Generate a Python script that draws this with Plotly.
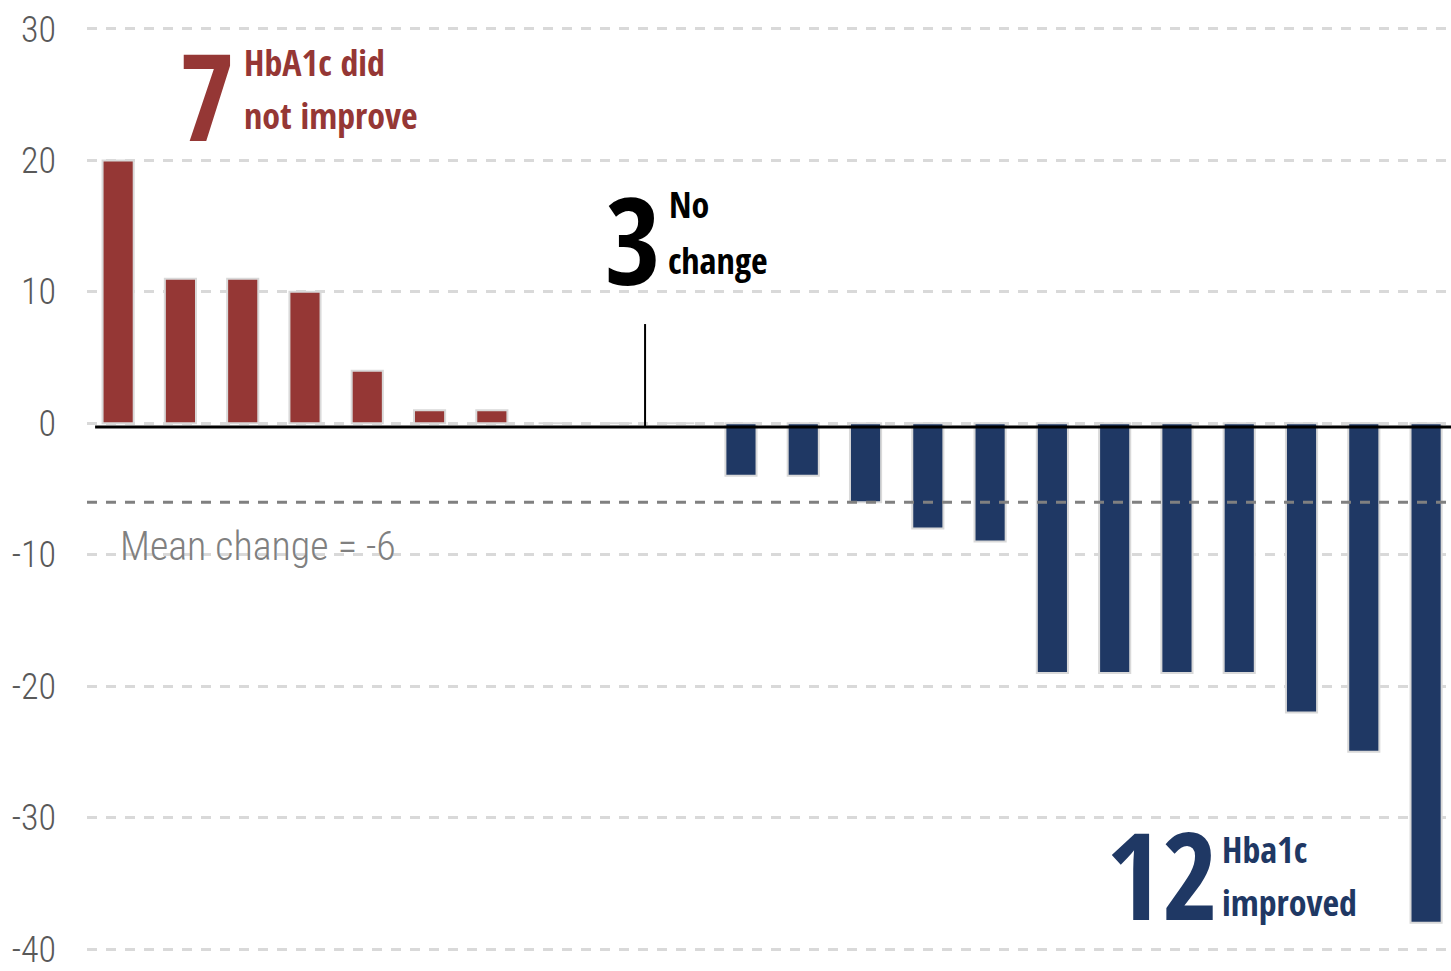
import plotly.graph_objects as go

# Change in HbA1c per participant, ordered from largest rise to largest fall
participants = list(range(1, 23))
hba1c_change = [20, 11, 11, 10, 4, 1, 1, 0, 0, 0,
                -4, -4, -6, -8, -9, -19, -19, -19, -19, -22, -25, -38]
mean_change = -6
y_ticks = [30, 20, 10, 0, -10, -20, -30, -40]
y_tick_text = ["30", "20", "10", "0", "-10", "-20", "-30", "-40"]

RED = "#953735"
NAVY = "#1F3864"
GRID = "#D9D9D9"
FONT = "Open Sans Condensed"
LIGHT_FONT = "Roboto Condensed"

bar_colors = [RED if v > 0 else NAVY for v in hba1c_change]

fig = go.Figure()
fig.add_trace(go.Bar(
    x=participants,
    y=hba1c_change,
    width=0.5,
    marker=dict(color=bar_colors, line=dict(color=GRID, width=2)),
    hoverinfo="x+y",
    showlegend=False,
))

# zero baseline
fig.add_shape(type="line", xref="x", yref="y", x0=0.63, x1=22.4, y0=-0.28, y1=-0.28,
              line=dict(color="black", width=3), layer="above")
# mean change reference
fig.add_shape(type="line", xref="paper", yref="y", x0=0, x1=1, y0=mean_change, y1=mean_change,
              line=dict(color="#808080", width=3, dash="10px,9px"), layer="above")
# pointer to the unchanged group
fig.add_shape(type="line", xref="x", yref="y", x0=9.46, x1=9.46, y0=7.55, y1=-0.28,
              line=dict(color="black", width=2), layer="above")

def label(x, y, text, size, color, weight="bold", anchor="left", family=FONT):
    fig.add_annotation(x=x, y=y, xref="x", yref="y", text=text, showarrow=False,
                       xanchor=anchor, yanchor="middle",
                       font=dict(family=family, size=size, color=color, weight=weight))

# group counts
label(2.43, 25.05, "7", 121, RED, anchor="center")
label(9.27, 14.1, "3", 121, "black", anchor="center")
label(17.76, -34.2, "12", 121, NAVY, anchor="center")

# group descriptions
label(2.99, 27.48, "HbA1c did", 36, RED)
label(2.99, 23.39, "not improve", 36, RED)
label(9.81, 16.65, "No", 36, "black")
label(9.79, 12.4, "change", 36, "black")
label(18.69, -32.39, "Hba1c", 36, NAVY)
label(18.69, -36.46, "improved", 36, NAVY)

label(1.0, -9.34, "Mean change = -6", 40, "#808080", weight=300, family=LIGHT_FONT)

fig.update_xaxes(range=[0.5, 22.4], showticklabels=False, showgrid=False,
                 zeroline=False, showline=False, ticks="")
fig.update_yaxes(range=[-40.15, 30.15], tickvals=y_ticks, ticktext=y_tick_text,
                 tickfont=dict(family=LIGHT_FONT, size=36, color="#595959", weight=300),
                 showgrid=True, gridcolor=GRID, gridwidth=3, griddash="10px,9px",
                 zeroline=False, showline=False, ticks="", ticklabelstandoff=30,
                 ticklabeloverflow="allow")

fig.update_layout(width=1451, height=971,
                  margin=dict(l=87, r=0, t=27, b=16),
                  paper_bgcolor="white", plot_bgcolor="white",
                  bargap=0.5)

fig.write_html("out.html")
